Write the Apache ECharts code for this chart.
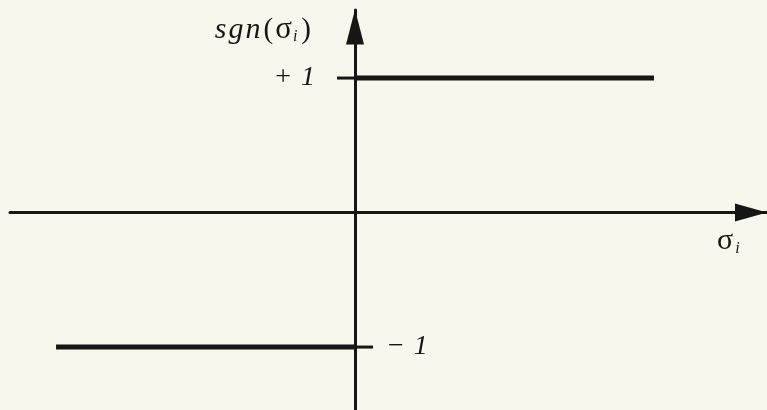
<!DOCTYPE html>
<html>
<head>
<meta charset="utf-8">
<script src="https://cdn.jsdelivr.net/npm/echarts@6/dist/echarts.min.js"></script>
<style>
  html, body { margin: 0; padding: 0; background: #f7f7ed; }
  #chart { width: 767px; height: 410px; }
</style>
</head>
<body>
<div id="chart"></div>
<script>
// Signum function: sgn(σ) = -1 for σ < 0 and +1 for σ > 0
const negSigma = [-1, 0];
const negSgn = [-1, -1];
const posSigma = [0, 1];
const posSgn = [1, 1];

// Levels marked on the vertical axis
const levelValues = [1, -1];
const levelLabels = ['{op|+ }{num|1}', '{op|− }{num|1}'];

const INK = '#161616';
const SERIF = '"Liberation Serif", "DejaVu Serif", serif';

const chart = echarts.init(document.getElementById('chart'), null, { renderer: 'canvas' });

const toPoints = (xs, ys) => xs.map((x, i) => [x, ys[i]]);

const levelRich = {
  op: { fontFamily: SERIF, fontSize: 28, color: INK, padding: [0, 3, 0, 0] },
  num: { fontFamily: SERIF, fontSize: 28, fontStyle: 'italic', color: INK }
};

// Short tick on the vertical axis with its level label: +1 to the left, -1 to the right
const levelMarks = levelValues.map((v, k) => {
  const left = v > 0;
  return {
    coord: [0, v],
    symbol: 'rect',
    symbolSize: [18, 3],
    symbolOffset: [left ? -9 : 9, 0],
    itemStyle: { color: INK },
    label: {
      show: true,
      position: left ? 'left' : 'right',
      distance: left ? 22 : 15,
      formatter: levelLabels[k],
      rich: levelRich
    }
  };
});

chart.setOption({
  backgroundColor: '#f7f7ed',
  animation: false,
  grid: { left: 10, right: 0, top: 10, bottom: 0, outerBoundsMode: 'none', containLabel: false },
  xAxis: {
    type: 'value',
    min: -1.154,
    max: 1.378,
    name: '{s|σ}{i|i}',
    nameLocation: 'end',
    nameGap: -50,
    nameTextStyle: {
      align: 'left',
      verticalAlign: 'top',
      padding: [14, 0, 0, 0],
      rich: {
        s: { fontFamily: SERIF, fontSize: 30, color: INK },
        i: { fontFamily: SERIF, fontSize: 16, fontStyle: 'italic', color: INK, padding: [14, 0, 0, 2] }
      }
    },
    axisLine: {
      onZero: true,
      lineStyle: { color: INK, width: 3 },
      symbol: ['none', 'triangle'],
      symbolSize: [18, 32],
      symbolOffset: [0, -16]
    },
    axisTick: { show: false },
    axisLabel: { show: false },
    splitLine: { show: false }
  },
  yAxis: {
    type: 'value',
    min: -1.468,
    max: 1.506,
    position: 'left',
    name: '{it|s}{it|g}{it|n}{p|(}{s|σ}{i|i}{p|)}',
    nameLocation: 'end',
    nameGap: -20,
    nameTextStyle: {
      align: 'right',
      verticalAlign: 'middle',
      padding: [0, 42, 0, 0],
      rich: {
        it: { fontFamily: SERIF, fontSize: 30, fontStyle: 'italic', color: INK, padding: [0, 1, 0, 1] },
        p: { fontFamily: SERIF, fontSize: 29, color: INK, padding: [0, 2, 0, 2] },
        s: { fontFamily: SERIF, fontSize: 31, color: INK },
        i: { fontFamily: SERIF, fontSize: 16, fontStyle: 'italic', color: INK, padding: [14, 2, 0, 1] }
      }
    },
    axisLine: {
      onZero: true,
      lineStyle: { color: INK, width: 3 },
      symbol: ['none', 'triangle'],
      symbolSize: [18, 35],
      symbolOffset: [0, -17]
    },
    axisTick: { show: false },
    axisLabel: { show: false },
    splitLine: { show: false }
  },
  series: [
    {
      name: 'sgn < 0',
      type: 'line',
      data: toPoints(negSigma, negSgn),
      symbol: 'none',
      lineStyle: { color: INK, width: 5, cap: 'butt' },
      z: 3
    },
    {
      name: 'sgn > 0',
      type: 'line',
      data: toPoints(posSigma, posSgn),
      symbol: 'none',
      lineStyle: { color: INK, width: 5, cap: 'butt' },
      z: 3,
      markPoint: {
        silent: true,
        data: levelMarks
      }
    }
  ]
});
</script>
</body>
</html>
